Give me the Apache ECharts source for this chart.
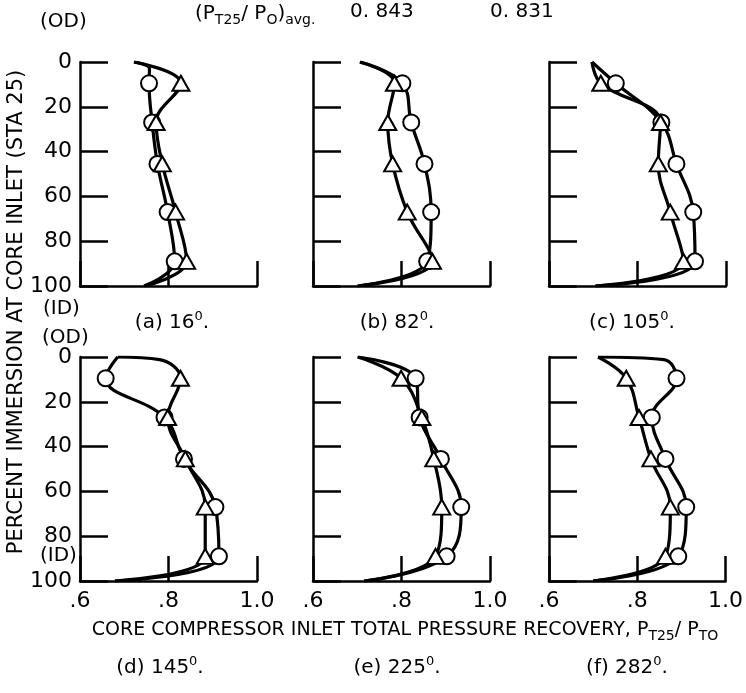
<!DOCTYPE html>
<html>
<head>
<meta charset="utf-8">
<script src="https://cdn.jsdelivr.net/npm/echarts@6/dist/echarts.min.js"></script>
<style>html,body{margin:0;padding:0;background:#fff}#chart{width:746px;height:693px}</style>
</head>
<body>
<div id="chart"></div>
<script>
// rake immersion (percent) of the five measured points
const rakeDepth = [9.5, 27, 45.5, 67, 89];
// pressure recovery, circles / triangles, one pair per panel
const circA = [0.756, 0.763, 0.775, 0.798, 0.814];
const triA = [0.828, 0.772, 0.786, 0.816, 0.841];
const circB = [0.802, 0.822, 0.852, 0.867, 0.858];
const triB = [0.784, 0.769, 0.780, 0.813, 0.870];
const circC = [0.751, 0.854, 0.888, 0.926, 0.930];
const triC = [0.717, 0.852, 0.847, 0.874, 0.904];
const circD = [0.658, 0.791, 0.835, 0.906, 0.914];
const triD = [0.827, 0.798, 0.838, 0.883, 0.883];
const circE = [0.832, 0.841, 0.889, 0.935, 0.902];
const triE = [0.799, 0.846, 0.873, 0.891, 0.877];
const circF = [0.889, 0.833, 0.864, 0.911, 0.893];
const triF = [0.775, 0.804, 0.831, 0.875, 0.864];
// faired values at the walls (0 = OD, 100 = ID)
const wallTop = [0.722, 0.706, 0.697, 0.685, 0.701, 0.711];
const wallBot = [0.745, 0.701, 0.705, 0.679, 0.716, 0.700];
// extra fairing points near the OD wall: [panel, series, recovery, immersion]
const fairing = [[0, 'circle', 0.757, 3], [3, 'triangle', 0.78, 1.2], [5, 'circle', 0.86, 1.2]];
const panelNames = ['(a) 16', '(b) 82', '(c) 105', '(d) 145', '(e) 225', '(f) 282'];
const avgLabels = ['0. 843', '0. 831'];

const FONT = "'DejaVu Sans', sans-serif";
const circles = [circA, circB, circC, circD, circE, circF];
const triangles = [triA, triB, triC, triD, triE, triF];
const colLeft = [80, 313, 549];
const rowTop = [62, 357];

const chart = echarts.init(document.getElementById('chart'));

const grids = [], xAxes = [], yAxes = [], series = [];
for (let i = 0; i < 6; i++) {
    const col = i % 3, row = Math.floor(i / 3);
    grids.push({left: colLeft[col], top: rowTop[row], width: 177, height: 224});
    xAxes.push({
        type: 'value', gridIndex: i, min: 0.6, max: 1.0, interval: 0.2,
        axisLine: {onZero: false, lineStyle: {color: '#000', width: 2.5}},
        axisTick: {inside: true, length: 25, lineStyle: {color: '#000', width: 2.5}},
        splitLine: {show: false},
        axisLabel: {
            show: row === 1, color: '#000', fontSize: 22, fontFamily: FONT, margin: 9,
            formatter: v => v >= 1 ? '1.0' : '.' + Math.round(v * 10)
        }
    });
    yAxes.push({
        type: 'value', gridIndex: i, min: 0, max: 100, interval: 20, inverse: true,
        axisLine: {onZero: false, lineStyle: {color: '#000', width: 2.5}},
        axisTick: {inside: true, length: 28, lineStyle: {color: '#000', width: 2.5}},
        splitLine: {show: false},
        axisLabel: {show: col === 0, color: '#000', fontSize: 22, fontFamily: FONT, margin: 8}
    });
    [['circle', circles[i]], ['triangle', triangles[i]]].forEach(([kind, vals]) => {
        const data = [{value: [wallTop[i], 0], symbol: 'none'}];
        fairing.filter(f => f[0] === i && f[1] === kind)
            .forEach(f => data.push({value: [f[2], f[3]], symbol: 'none'}));
        vals.forEach((v, k) => data.push([v, rakeDepth[k]]));
        data.push({value: [wallBot[i], 100], symbol: 'none'});
        series.push({
            type: 'line', xAxisIndex: i, yAxisIndex: i, smooth: 0.4,
            symbol: kind, symbolSize: kind === 'circle' ? 16 : [17, 15],
            lineStyle: {color: '#000', width: 3.2},
            itemStyle: {color: '#fff', borderColor: '#000', borderWidth: 2},
            data: data
        });
    });
}

const rich = {
    m: {fontSize: 20, fontFamily: FONT, color: '#000', lineHeight: 26},
    t: {fontSize: 19, fontFamily: FONT, color: '#000', lineHeight: 26},
    u: {fontSize: 21, fontFamily: FONT, color: '#000', lineHeight: 26},
    s: {fontSize: 13, fontFamily: FONT, color: '#000', lineHeight: 13, verticalAlign: 'top'},
    b: {fontSize: 14, fontFamily: FONT, color: '#000', lineHeight: 14, verticalAlign: 'bottom'}
};
const txt = (x, y, text, align, extra) => Object.assign({
    type: 'text', x: x, y: y,
    style: {text: text, rich: rich, align: align || 'left', verticalAlign: 'middle'}
}, extra || {});

const captionPos = [[172, 323], [397, 323], [632, 323], [160, 668], [397, 668], [627, 668]];
const graphic = panelNames.map((n, i) =>
    txt(captionPos[i][0], captionPos[i][1], '{m|' + n + '}{s|0}{m|.}', 'center'));
graphic.push(
    txt(40, 22, '{m|(OD)}'),
    txt(43, 309, '{m|(ID)}'),
    txt(42, 338, '{m|(OD)}'),
    txt(40, 556, '{m|(ID)}'),
    txt(195, 14, '{m|(P}{b|T25}{m|/ P}{b|O}{m|)}{b|avg.}'),
    txt(350, 12, '{m|' + avgLabels[0] + '}'),
    txt(490, 12, '{m|' + avgLabels[1] + '}'),
    txt(405, 630, '{t|CORE COMPRESSOR INLET TOTAL PRESSURE RECOVERY, P}{b|T25}{t|/ P}{b|TO}', 'center'),
    txt(17, 312, '{u|PERCENT IMMERSION AT CORE INLET (STA 25)}', 'center', {rotation: Math.PI / 2})
);

chart.setOption({
    animation: false,
    grid: grids,
    xAxis: xAxes,
    yAxis: yAxes,
    series: series,
    graphic: graphic
});
</script>
</body>
</html>
